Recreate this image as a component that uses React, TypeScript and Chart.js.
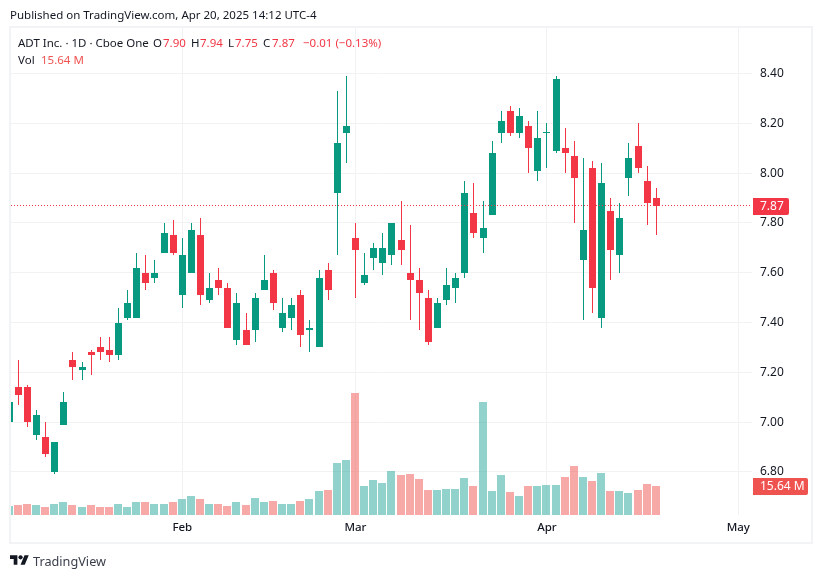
import React, { useEffect, useRef } from "react";
import { Chart, registerables } from "chart.js";

Chart.register(...registerables);

const opens = [
  7.0, 7.14, 7.14, 6.95, 6.94, 6.8, 6.99, 7.25, 7.21, 7.28, 7.3, 7.29, 7.27, 7.42, 7.42, 7.6, 7.58, 7.68,
  7.75, 7.51, 7.6, 7.75, 7.49, 7.57, 7.54, 7.33, 7.37, 7.37, 7.53, 7.6, 7.38, 7.42, 7.51, 7.37, 7.3, 7.61,
  7.92, 8.16, 7.74, 7.56, 7.66, 7.64, 7.67, 7.73, 7.6, 7.57, 7.5, 7.38, 7.49, 7.54, 7.6, 7.84, 7.74, 7.83,
  8.16, 8.25, 8.16, 8.19, 8.01, 8.16, 8.09, 8.1, 8.07, 7.65, 8.02, 7.42, 7.85, 7.67, 7.98, 8.11, 7.97, 7.9,
];
const highs = [
  7.08, 7.25, 7.15, 7.05, 7.0, 6.92, 7.12, 7.28, 7.24, 7.29, 7.34, 7.34, 7.46, 7.53, 7.68, 7.67, 7.65, 7.8,
  7.81, 7.74, 7.8, 7.82, 7.6, 7.62, 7.56, 7.52, 7.44, 7.52, 7.67, 7.61, 7.5, 7.5, 7.53, 7.41, 7.61, 7.64,
  8.33, 8.39, 7.8, 7.68, 7.72, 7.76, 7.8, 7.89, 7.79, 7.62, 7.53, 7.5, 7.62, 7.6, 7.97, 7.96, 7.89, 8.13,
  8.25, 8.27, 8.26, 8.21, 8.25, 8.2, 8.39, 8.18, 8.13, 8.06, 8.05, 8.04, 7.9, 7.88, 8.12, 8.2, 8.03, 7.94,
];
const lows = [
  7.0, 7.07, 6.98, 6.93, 6.86, 6.79, 6.99, 7.17, 7.17, 7.19, 7.25, 7.24, 7.25, 7.41, 7.42, 7.53, 7.56, 7.68,
  7.67, 7.46, 7.6, 7.47, 7.48, 7.51, 7.38, 7.31, 7.31, 7.32, 7.53, 7.45, 7.36, 7.37, 7.3, 7.28, 7.3, 7.49,
  7.67, 8.04, 7.5, 7.55, 7.61, 7.59, 7.63, 7.63, 7.41, 7.37, 7.31, 7.38, 7.47, 7.48, 7.58, 7.74, 7.68, 7.83,
  8.12, 8.15, 8.14, 8.0, 7.97, 8.02, 8.08, 8.0, 7.8, 7.41, 7.44, 7.38, 7.57, 7.6, 7.91, 8.0, 7.79, 7.75,
];
const closes = [
  7.08, 7.11, 7.0, 7.03, 6.87, 6.92, 7.08, 7.22, 7.22, 7.27, 7.28, 7.27, 7.4, 7.48, 7.62, 7.56, 7.6, 7.76,
  7.68, 7.67, 7.77, 7.51, 7.54, 7.54, 7.38, 7.48, 7.31, 7.5, 7.57, 7.48, 7.44, 7.47, 7.35, 7.38, 7.58, 7.53,
  8.12, 8.19, 7.69, 7.59, 7.7, 7.7, 7.8, 7.69, 7.57, 7.52, 7.32, 7.48, 7.55, 7.58, 7.92, 7.76, 7.78, 8.08,
  8.21, 8.16, 8.23, 8.1, 8.14, 8.16, 8.38, 8.08, 7.98, 7.77, 7.54, 7.96, 7.69, 7.82, 8.06, 8.02, 7.88, 7.87,
];
const volumes = [
  4.85, 5.39, 5.93, 5.39, 4.31, 5.93, 7.0, 5.39, 4.31, 5.39, 4.31, 4.31, 5.93, 4.31, 7.0, 7.0, 5.93, 5.93,
  7.0, 8.6, 10.2, 8.6, 5.93, 5.93, 4.85, 7.0, 5.39, 9.2, 7.0, 7.55, 5.93, 5.93, 7.55, 8.6, 12.9, 13.5,
  28.0, 29.6, 65.8, 15.6, 18.9, 17.2, 23.7, 21.6, 22.1, 19.4, 13.5, 13.5, 14.0, 14.0, 19.9, 15.6, 60.9, 12.9,
  21.6, 12.4, 10.2, 15.6, 15.6, 16.2, 16.2, 20.5, 26.4, 20.5, 18.3, 22.6, 12.9, 12.9, 11.9, 13.5, 16.7, 15.64,
];
const priceTicks = [6.8, 7.0, 7.2, 7.4, 7.6, 7.8, 8.0, 8.2, 8.4];
const monthTicks = [19, 38, 59, 80];
const monthLabels = ["Feb", "Mar", "Apr", "May"];

const GREEN = "#089981";
const RED = "#f23645";
const FONT = "'Noto Sans', sans-serif";
const X_MIN = 0.21;
const X_MAX = 81.5;

const isUp = (i: number) => closes[i] >= opens[i];

// keeps candles crisp: the library places bars on fractional pixels
const snapPlugin = {
  id: "snap",
  beforeDatasetsDraw(chart: any) {
    chart.getSortedVisibleDatasetMetas().forEach((meta: any) => {
      if (meta.type !== "bar") return;
      const isVol = meta.yAxisID === "vol";
      meta.data.forEach((bar: any) => {
        bar.x = isVol ? Math.floor(bar.x) : Math.floor(bar.x) + 0.5;
        bar.y = Math.round(bar.y);
        bar.base = Math.round(bar.base);
      });
    });
  },
};

const badgePlugin = {
  id: "badges",
  afterDraw(chart: any) {
    const { ctx, scales } = chart;
    const draw = (text: string, y: number, w: number, color: string) => {
      ctx.save();
      ctx.fillStyle = color;
      ctx.beginPath();
      ctx.roundRect(753, Math.round(y) - 8, w, 17, [0, 2, 2, 0]);
      ctx.fill();
      ctx.fillStyle = "#ffffff";
      ctx.font = `12px ${FONT}`;
      ctx.textBaseline = "middle";
      ctx.fillText(text, 760, Math.round(y) + 1);
      ctx.restore();
    };
    draw(closes[closes.length - 1].toFixed(2), scales.y.getPixelForValue(closes[closes.length - 1]), 36, RED);
    draw("15.64 M", scales.vol.getPixelForValue(volumes[volumes.length - 1]), 55, "#ef5350");
  },
};

const label = (left: number, top: number, text: string, color = "#131722", size = 11.5) => (
  <span
    style={{ position: "absolute", left, top, color, fontSize: size, lineHeight: "16px", whiteSpace: "nowrap" }}
  >
    {text}
  </span>
);

export default function App() {
  const canvasRef = useRef<HTMLCanvasElement | null>(null);

  useEffect(() => {
    if (!canvasRef.current) return;
    const last = closes[closes.length - 1];
    const chart = new Chart(canvasRef.current, {
      type: "bar",
      data: {
        datasets: [
          {
            type: "line",
            order: 0,
            data: [
              { x: X_MIN, y: last },
              { x: X_MAX, y: last },
            ],
            borderColor: RED,
            borderWidth: 1,
            borderDash: [1, 2],
            pointRadius: 0,
          },
          {
            order: 1,
            data: opens.map((o, i) => ({ x: i, y: [o, closes[i]] })),
            backgroundColor: opens.map((_, i) => (isUp(i) ? GREEN : RED)),
            barThickness: 7,
            minBarLength: 1,
            grouped: false,
            inflateAmount: 0,
          },
          {
            order: 2,
            data: opens.map((_, i) => ({ x: i, y: [lows[i], highs[i]] })),
            backgroundColor: opens.map((_, i) => (isUp(i) ? GREEN : RED)),
            barThickness: 1,
            grouped: false,
            inflateAmount: 0,
          },
          {
            order: 3,
            yAxisID: "vol",
            data: volumes.map((v, i) => ({ x: i, y: v })),
            backgroundColor: opens.map((_, i) => (isUp(i) ? "rgba(38,166,154,0.5)" : "rgba(239,83,80,0.5)")),
            barThickness: 8,
            grouped: false,
            inflateAmount: 0,
          },
        ],
      } as any,
      options: {
        responsive: false,
        animation: false,
        layout: { padding: { left: 11, right: 11, top: 28, bottom: 35 } },
        plugins: { legend: { display: false }, tooltip: { enabled: false } },
        scales: {
          x: {
            type: "linear",
            offset: false,
            min: X_MIN,
            max: X_MAX,
            afterBuildTicks: (s: any) => {
              s.ticks = monthTicks.map((value) => ({ value }));
            },
            afterFit: (s: any) => {
              s.height = 28;
            },
            grid: { color: "#f2f2f2", drawTicks: false, offset: false },
            border: { display: false },
            ticks: {
              autoSkip: false,
              maxRotation: 0,
              padding: 6,
              color: "#131722",
              font: { family: "'Noto Sans', sans-serif", size: 11.5, weight: 500 },
              callback: (v: any) => monthLabels[monthTicks.indexOf(v)],
            },
          },
          y: {
            position: "right",
            min: 6.627,
            max: 8.583,
            afterBuildTicks: (s: any) => {
              s.ticks = priceTicks.map((value) => ({ value }));
            },
            afterFit: (s: any) => {
              s.width = 59;
            },
            grid: { color: "#f2f2f2", drawTicks: false },
            border: { display: false },
            ticks: {
              padding: 8,
              color: "#131722",
              font: { family: "'Noto Sans', sans-serif", size: 12 },
              callback: (v: any) => Number(v).toFixed(2),
            },
          },
          vol: { display: false, min: 0, max: 262.5 },
        },
      } as any,
      plugins: [snapPlugin, badgePlugin],
    });

    return () => {
      chart.destroy();
    };
  }, []);

  return (
    <div style={{ position: "absolute", left: 0, top: 0, width: 822, height: 578, fontFamily: FONT, overflow: "hidden" }}>
      <canvas ref={canvasRef} width={822} height={578} style={{ display: "block" }}></canvas>
      <div
        style={{
          position: "absolute",
          left: 9,
          top: 26,
          width: 800,
          height: 514,
          border: "2px solid #f2f3f5",
          pointerEvents: "none",
        }}
      ></div>
      {label(10, 7, "Published on TradingView.com, Apr 20, 2025 14:12 UTC-4")}
      {label(18, 35, "ADT Inc. · 1D · Cboe One")}
      {label(153, 35, "O")}
      {label(163, 35, "7.90", RED)}
      {label(191, 35, "H")}
      {label(200, 35, "7.94", RED)}
      {label(228, 35, "L")}
      {label(235, 35, "7.75", RED)}
      {label(263, 35, "C")}
      {label(272, 35, "7.87", RED)}
      {label(303, 35, "−0.01 (−0.13%)", RED)}
      {label(18, 52, "Vol")}
      {label(41, 52, "15.64 M", "#ef5350")}
      <svg
        style={{ position: "absolute", left: 10, top: 553 }}
        width={19}
        height={15}
        viewBox="0 0 36 28"
        fill="#131722"
      >
        <path d="M14 22H7V11H0V4h14v18zM28 22h-8l7.5-18h8L28 22z" />
        <circle cx={20} cy={8} r={4} />
      </svg>
      {label(33, 553, "TradingView", "#3a3e4a", 12.7)}
    </div>
  );
}
